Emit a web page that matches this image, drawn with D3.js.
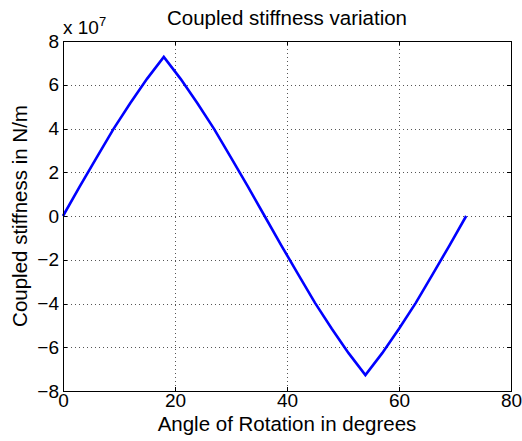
<!DOCTYPE html>
<html>
<head>
<meta charset="utf-8">
<script src="https://cdn.jsdelivr.net/npm/d3@7/dist/d3.min.js"></script>
<style>
  body { margin: 0; background: #fff; }
  text { font-family: "Liberation Sans", Arial, sans-serif; fill: #000; }
</style>
</head>
<body>
<svg id="chart" width="522" height="441"></svg>
<script>
// Vinkel i grader og koblet stivhed (i enheder af 1e7 N/m)
var angles    = [0, 3, 6, 9, 12, 15, 18, 21, 24, 27, 30, 33, 36,
                 39, 42, 45, 48, 51, 54, 57, 60, 63, 66, 69, 72];
var stiffness = [0, 1.35, 2.67, 3.97, 5.15, 6.27, 7.27, 6.27, 5.15, 3.97, 2.67, 1.35, 0,
                 -1.35, -2.67, -3.97, -5.15, -6.27, -7.27, -6.27, -5.15, -3.97, -2.67, -1.35, 0];

var xTicks = [0, 20, 40, 60, 80];
var yTicks = [-8, -6, -4, -2, 0, 2, 4, 6, 8];

var titleText = "Coupled stiffness variation";
var xLabelText = "Angle of Rotation in degrees";
var yLabelText = "Coupled stiffness in N/m";

var svg = d3.select("#chart");

// Aksernes kasse
var boxLeft = 63, boxRight = 511, boxTop = 41, boxBottom = 391;

var x = d3.scaleLinear().domain([0, 80]).range([boxLeft, boxRight]);
var y = d3.scaleLinear().domain([-8, 8]).range([boxBottom, boxTop]);

// Stiplede gitterlinjer
var grid = svg.append("g").attr("class", "grid")
    .attr("stroke", "#555")
    .attr("stroke-width", 1)
    .attr("stroke-dasharray", "1,3")
    .attr("shape-rendering", "crispEdges");

grid.selectAll("line.gx")
    .data(xTicks.slice(1, -1))
    .enter().append("line")
    .attr("class", "gx")
    .attr("x1", d => Math.round(x(d)) + 0.5).attr("x2", d => Math.round(x(d)) + 0.5)
    .attr("y1", boxTop).attr("y2", boxBottom);

grid.selectAll("line.gy")
    .data(yTicks.slice(1, -1))
    .enter().append("line")
    .attr("class", "gy")
    .attr("x1", boxLeft).attr("x2", boxRight)
    .attr("y1", d => Math.round(y(d)) + 0.5).attr("y2", d => Math.round(y(d)) + 0.5);

// Akser (flueben peger indad som i MATLAB)
var tickLen = 4;
var fontTick = "19px";

var xAxis = svg.append("g")
    .attr("transform", "translate(0," + boxBottom + ")")
    .call(d3.axisBottom(x).tickValues(xTicks).tickSizeInner(-tickLen).tickSizeOuter(0).tickPadding(2));
var xAxisTop = svg.append("g")
    .attr("transform", "translate(0," + boxTop + ")")
    .call(d3.axisTop(x).tickValues(xTicks).tickSizeInner(-tickLen).tickSizeOuter(0).tickFormat(""));
var yAxis = svg.append("g")
    .attr("transform", "translate(" + boxLeft + ",0)")
    .call(d3.axisLeft(y).tickValues(yTicks).tickSizeInner(-tickLen).tickSizeOuter(0).tickPadding(4)
        .tickFormat(d => d < 0 ? "\u2212" + Math.abs(d) : d));
var yAxisRight = svg.append("g")
    .attr("transform", "translate(" + boxRight + ",0)")
    .call(d3.axisRight(y).tickValues(yTicks).tickSizeInner(-tickLen).tickSizeOuter(0).tickFormat(""));

[xAxis, xAxisTop, yAxis, yAxisRight].forEach(function(a) {
    a.select(".domain").remove();
    a.selectAll("line").attr("stroke", "#000").attr("shape-rendering", "crispEdges");
    a.selectAll("text")
        .style("font-size", fontTick)
        .style("font-family", "'Liberation Sans', Arial, sans-serif")
        .attr("fill", "#000");
});

// Kurven
var line = d3.line()
    .x(function(d, i) { return x(angles[i]); })
    .y(function(d) { return y(d); });

svg.append("path")
    .datum(stiffness)
    .attr("d", line)
    .attr("fill", "none")
    .attr("stroke", "#0000ff")
    .attr("stroke-width", 2.6)
    .attr("stroke-linejoin", "miter");

// Kassens kant
svg.append("rect")
    .attr("x", boxLeft + 0.5).attr("y", boxTop + 0.5)
    .attr("width", boxRight - boxLeft).attr("height", boxBottom - boxTop)
    .attr("fill", "none")
    .attr("stroke", "#000")
    .attr("stroke-width", 1)
    .attr("shape-rendering", "crispEdges");

// Eksponent "x 10^7"
var expo = svg.append("text")
    .attr("x", boxLeft)
    .attr("y", 34)
    .style("font-size", "19px");
expo.append("tspan").text("x 10");
expo.append("tspan").attr("dy", -8).style("font-size", "13px").text("7");

// Titel
svg.append("text")
    .attr("x", (boxLeft + boxRight) / 2 + 0)
    .attr("y", 25)
    .attr("text-anchor", "middle")
    .style("font-size", "20.5px")
    .text(titleText);

// Aksetitler
svg.append("text")
    .attr("x", (boxLeft + boxRight) / 2)
    .attr("y", 431)
    .attr("text-anchor", "middle")
    .style("font-size", "20.5px")
    .text(xLabelText);

svg.append("text")
    .attr("transform", "translate(27," + ((boxTop + boxBottom) / 2) + ") rotate(-90)")
    .attr("text-anchor", "middle")
    .style("font-size", "20.5px")
    .text(yLabelText);
</script>
</body>
</html>
